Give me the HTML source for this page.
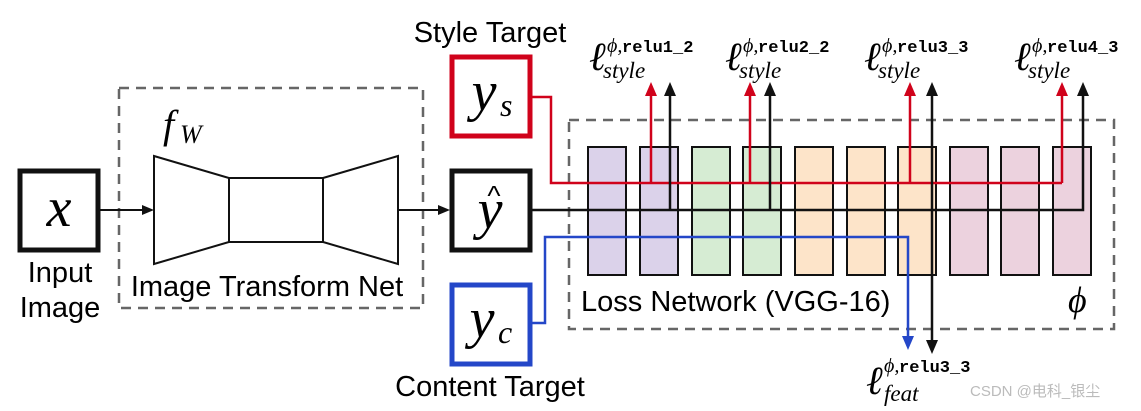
<!DOCTYPE html>
<html><head><meta charset="utf-8"><style>
html,body{margin:0;padding:0;background:#fff;}
svg{display:block;}
.s{font-family:"Liberation Sans",sans-serif;}
.m{font-family:"Liberation Serif",serif;font-style:italic;}
.t{font-family:"Liberation Mono",monospace;font-weight:bold;}
</style></head><body>
<svg width="1141" height="411" viewBox="0 0 1141 411" xmlns="http://www.w3.org/2000/svg">
<!-- dashed boxes -->
<rect x="119" y="88" width="304" height="220" fill="none" stroke="#666" stroke-width="2.5" stroke-dasharray="10,7"/>
<rect x="569" y="120" width="545" height="209" fill="none" stroke="#666" stroke-width="2.5" stroke-dasharray="10,7"/>
<!-- VGG blocks -->
<g stroke="#111" stroke-width="2">
<rect x="588" y="147" width="38" height="128" fill="#dbd2ea"/>
<rect x="640" y="147" width="38" height="128" fill="#dbd2ea"/>
<rect x="692" y="147" width="38" height="128" fill="#d6ecd3"/>
<rect x="743" y="147" width="38" height="128" fill="#d6ecd3"/>
<rect x="795" y="147" width="38" height="128" fill="#fde4c9"/>
<rect x="847" y="147" width="38" height="128" fill="#fde4c9"/>
<rect x="898" y="147" width="38" height="128" fill="#fde4c9"/>
<rect x="950" y="147" width="38" height="128" fill="#ecd2de"/>
<rect x="1001" y="147" width="38" height="128" fill="#ecd2de"/>
<rect x="1053" y="147" width="38" height="128" fill="#ecd2de"/>
</g>
<!-- transform net -->
<g stroke="#111" stroke-width="2" fill="#fff">
<polygon points="154,156 229,178 229,242 154,264"/>
<rect x="229" y="178" width="94" height="64"/>
<polygon points="323,178 398,156 398,264 323,242"/>
</g>
<line x1="100" y1="210" x2="143" y2="210" stroke="#111" stroke-width="2"/>
<polygon points="154,210 142,205 142,215" fill="#111"/>
<line x1="398" y1="210" x2="438" y2="210" stroke="#111" stroke-width="2"/>
<polygon points="450,210 438,205 438,215" fill="#111"/>
<!-- red lines -->
<polyline points="531,97 551,97 551,183 1062,183" fill="none" stroke="#d0021b" stroke-width="2.5"/>
<g stroke="#d0021b" stroke-width="2.5">
<line x1="651" y1="183" x2="651" y2="94"/><line x1="750" y1="183" x2="750" y2="94"/>
<line x1="910" y1="183" x2="910" y2="94"/><line x1="1062" y1="183" x2="1062" y2="94"/>
</g>
<g fill="#d0021b">
<polygon points="651,82 645,96 657,96"/><polygon points="750,82 744,96 756,96"/>
<polygon points="910,82 904,96 916,96"/><polygon points="1062,82 1056,96 1068,96"/>
</g>
<!-- black lines -->
<polyline points="531,210 1083,210 1083,94" fill="none" stroke="#111" stroke-width="2.5"/>
<g stroke="#111" stroke-width="2.5">
<line x1="670" y1="210" x2="670" y2="94"/><line x1="770" y1="210" x2="770" y2="94"/>
<line x1="932" y1="94" x2="932" y2="342"/>
</g>
<g fill="#111">
<polygon points="670,82 664,96 676,96"/><polygon points="770,82 764,96 776,96"/>
<polygon points="932,82 926,96 938,96"/><polygon points="1083,82 1077,96 1089,96"/>
<polygon points="932,354 926,340 938,340"/>
</g>
<!-- blue -->
<polyline points="531,323 545,323 545,237 908,237 908,338" fill="none" stroke="#2447c8" stroke-width="2.5"/>
<polygon points="908,350 902,336 914,336" fill="#2447c8"/>
<!-- node boxes -->
<rect x="20" y="171" width="78" height="79" fill="#fff" stroke="#111" stroke-width="5"/>
<rect x="452" y="57" width="78" height="79" fill="#fff" stroke="#d0021b" stroke-width="5"/>
<rect x="452" y="171" width="78" height="79" fill="#fff" stroke="#111" stroke-width="5"/>
<rect x="452" y="285" width="78" height="79" fill="#fff" stroke="#2447c8" stroke-width="5"/>
<text x="59" y="226" class="m" font-size="56" text-anchor="middle">x</text>
<text x="484" y="110" class="m" font-size="56" text-anchor="middle">y</text><text x="500" y="116" class="m" font-size="32">s</text>
<text x="490" y="228" class="m" font-size="56" text-anchor="middle">y</text><text x="494" y="205" class="s" font-size="28" text-anchor="middle">^</text>
<text x="482" y="337" class="m" font-size="56" text-anchor="middle">y</text><text x="498" y="343" class="m" font-size="32">c</text>
<text x="163" y="138" class="m" font-size="40">f</text><text x="180" y="143" class="m" font-size="26">W</text>
<!-- labels -->
<g class="s" font-size="29" fill="#000">
<text x="490" y="42" text-anchor="middle">Style Target</text>
<text x="490" y="396" text-anchor="middle">Content Target</text>
<text x="60" y="282" text-anchor="middle">Input</text>
<text x="60" y="317" text-anchor="middle">Image</text>
<text x="267" y="296" text-anchor="middle">Image Transform Net</text>
<text x="581" y="311">Loss Network (VGG-16)</text>
</g>
<text x="1068" y="312" class="m" font-size="36">ϕ</text>
<!-- loss labels -->
<g>
<text x="589" y="70" class="m" font-size="40">ℓ</text><text x="607" y="52" class="m" font-size="20">ϕ,</text><text x="622" y="52" class="t" font-size="17">relu1_2</text><text x="603" y="78" class="m" font-size="23">style</text>
<text x="725" y="70" class="m" font-size="40">ℓ</text><text x="743" y="52" class="m" font-size="20">ϕ,</text><text x="758" y="52" class="t" font-size="17">relu2_2</text><text x="739" y="78" class="m" font-size="23">style</text>
<text x="864" y="70" class="m" font-size="40">ℓ</text><text x="882" y="52" class="m" font-size="20">ϕ,</text><text x="897" y="52" class="t" font-size="17">relu3_3</text><text x="878" y="78" class="m" font-size="23">style</text>
<text x="1014" y="70" class="m" font-size="40">ℓ</text><text x="1032" y="52" class="m" font-size="20">ϕ,</text><text x="1047" y="52" class="t" font-size="17">relu4_3</text><text x="1028" y="78" class="m" font-size="23">style</text>
<text x="866" y="394" class="m" font-size="40">ℓ</text><text x="884" y="372" class="m" font-size="20">ϕ,</text><text x="899" y="372" class="t" font-size="17">relu3_3</text><text x="884" y="401" class="m" font-size="23">feat</text>
</g>
<text x="970" y="396" font-family="Liberation Sans, Noto Sans CJK SC, sans-serif" font-size="15" fill="#bbb">CSDN @电科_银尘</text>
</svg>
</body></html>
